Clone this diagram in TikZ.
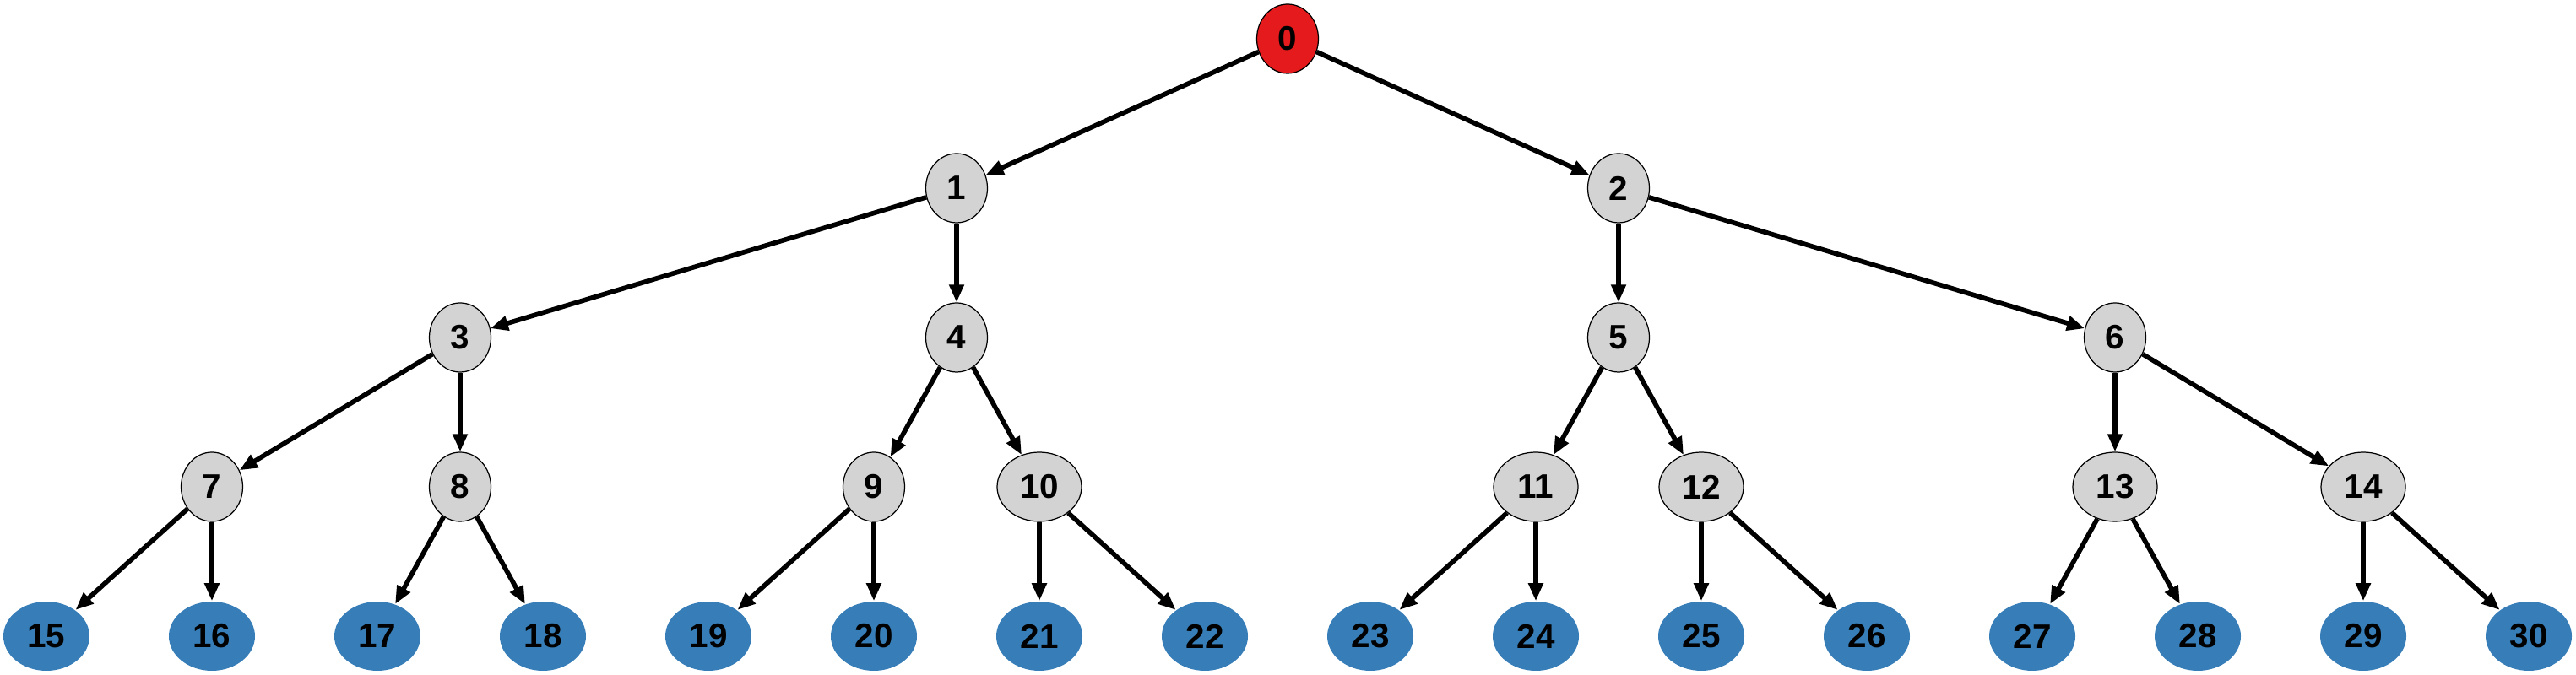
\documentclass[tikz,border=0pt]{standalone}
\usepackage{fontspec}
\setmainfont{Liberation Sans}
\usepackage{tikz}
\usetikzlibrary{arrows.meta,positioning,shapes.geometric}

\definecolor{rootred}{HTML}{E41A1C}
\definecolor{leafblue}{HTML}{377EB8}
\definecolor{innergray}{HTML}{D3D3D3}

\begin{document}
\begin{tikzpicture}[
  vertex/.style={ellipse, inner sep=0pt, minimum height=0.82cm,
    minimum width=0.73cm, font=\fontsize{11.5}{13}\selectfont\bfseries},
  root/.style={vertex, draw=black, line width=0.35pt, fill=rootred},
  inner/.style={vertex, draw=black, line width=0.35pt, fill=innergray},
  wide/.style={minimum width=1.0cm},
  leaf/.style={vertex, fill=leafblue, minimum width=1.02cm},
  edge/.style={line width=1.6pt, -{Triangle[length=6pt,width=4.8pt]}}
]
  \useasboundingbox (0,0) rectangle (30.51,8.00);

  % Root and inner vertices
  \node[root]  (n0)  at (15.25,7.54) {0};
  \node[inner] (n1)  at (11.33,5.77) {1};
  \node[inner] (n2)  at (19.17,5.77) {2};
  \node[inner] (n3)  at (5.45,4.00)  {3};
  \node[inner] (n4)  at (11.33,4.00) {4};
  \node[inner] (n5)  at (19.17,4.00) {5};
  \node[inner] (n6)  at (25.05,4.00) {6};
  \node[inner] (n7)  at (2.51,2.23)  {7};
  \node[inner] (n8)  at (5.45,2.23)  {8};
  \node[inner] (n9)  at (10.35,2.23) {9};
  \node[inner, wide] (n10) at (12.31,2.23) {10};
  \node[inner, wide] (n11) at (18.19,2.23) {11};
  \node[inner, wide] (n12) at (20.15,2.23) {12};
  \node[inner, wide] (n13) at (25.05,2.23) {13};
  \node[inner, wide] (n14) at (27.99,2.23) {14};

  % Leaves
  \node[leaf] (n15) at (0.55,0.46)  {15};
  \node[leaf] (n16) at (2.51,0.46)  {16};
  \node[leaf] (n17) at (4.47,0.46)  {17};
  \node[leaf] (n18) at (6.43,0.46)  {18};
  \node[leaf] (n19) at (8.39,0.46)  {19};
  \node[leaf] (n20) at (10.35,0.46) {20};
  \node[leaf] (n21) at (12.31,0.46) {21};
  \node[leaf] (n22) at (14.27,0.46) {22};
  \node[leaf] (n23) at (16.23,0.46) {23};
  \node[leaf] (n24) at (18.19,0.46) {24};
  \node[leaf] (n25) at (20.15,0.46) {25};
  \node[leaf] (n26) at (22.11,0.46) {26};
  \node[leaf] (n27) at (24.07,0.46) {27};
  \node[leaf] (n28) at (26.03,0.46) {28};
  \node[leaf] (n29) at (27.99,0.46) {29};
  \node[leaf] (n30) at (29.95,0.46) {30};

  % Edges
  \draw[edge] (n0) -- (n1);
  \draw[edge] (n0) -- (n2);
  \draw[edge] (n1) -- (n3);
  \draw[edge] (n1) -- (n4);
  \draw[edge] (n2) -- (n5);
  \draw[edge] (n2) -- (n6);
  \draw[edge] (n3) -- (n7);
  \draw[edge] (n3) -- (n8);
  \draw[edge] (n4) -- (n9);
  \draw[edge] (n4) -- (n10);
  \draw[edge] (n5) -- (n11);
  \draw[edge] (n5) -- (n12);
  \draw[edge] (n6) -- (n13);
  \draw[edge] (n6) -- (n14);
  \draw[edge] (n7) -- (n15);
  \draw[edge] (n7) -- (n16);
  \draw[edge] (n8) -- (n17);
  \draw[edge] (n8) -- (n18);
  \draw[edge] (n9) -- (n19);
  \draw[edge] (n9) -- (n20);
  \draw[edge] (n10) -- (n21);
  \draw[edge] (n10) -- (n22);
  \draw[edge] (n11) -- (n23);
  \draw[edge] (n11) -- (n24);
  \draw[edge] (n12) -- (n25);
  \draw[edge] (n12) -- (n26);
  \draw[edge] (n13) -- (n27);
  \draw[edge] (n13) -- (n28);
  \draw[edge] (n14) -- (n29);
  \draw[edge] (n14) -- (n30);

\end{tikzpicture}
\end{document}
